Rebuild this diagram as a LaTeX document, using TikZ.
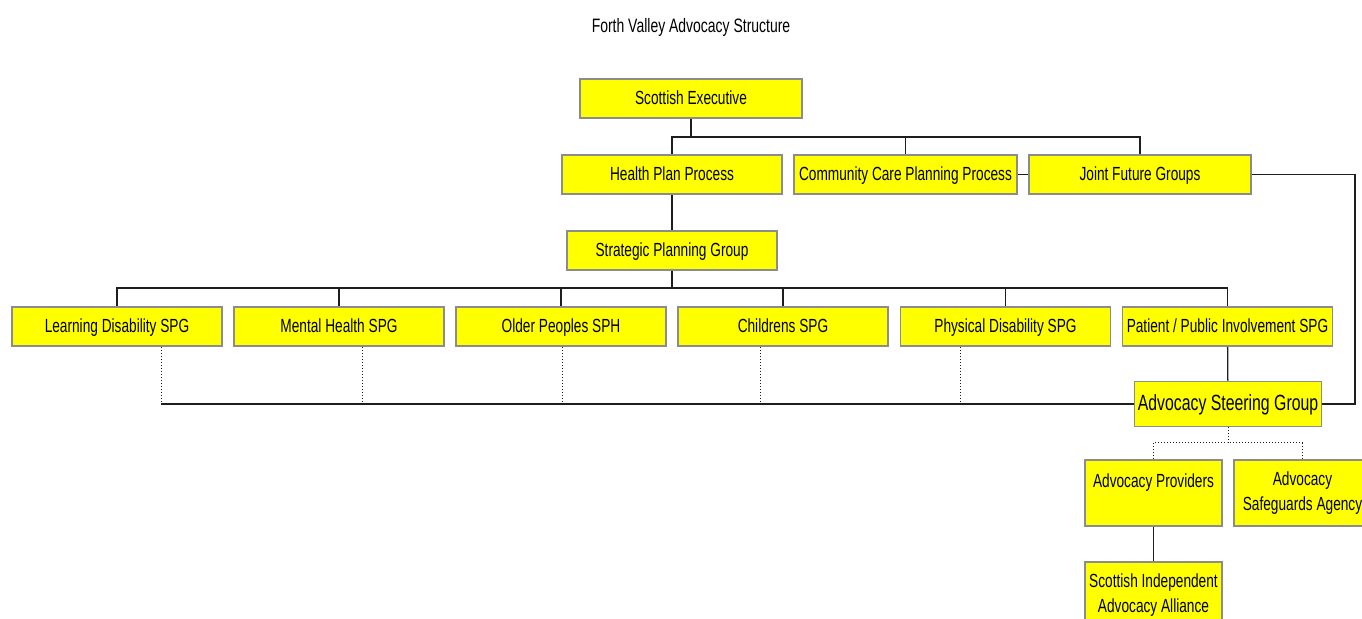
\documentclass[tikz,border=0pt]{standalone}
\usepackage{fontspec}
\setmainfont{Liberation Sans}[FakeStretch=0.72]
\usetikzlibrary{positioning}
\definecolor{boxyellow}{HTML}{FFFF00}
\definecolor{boxedge}{HTML}{8C8C8C}
\definecolor{linedark}{HTML}{1E1E1E}

\begin{document}
\begin{tikzpicture}[
  x=0.5pt, y=-0.5pt,
  font=\fontsize{9.5}{12.5}\selectfont,
  box/.style={draw=boxedge, fill=boxyellow, line width=0.8pt, minimum width=105pt, minimum height=19.5pt, inner sep=0pt, text height=7.5pt, text depth=1.5pt},
  tallbox/.style={draw=boxedge, fill=boxyellow, line width=0.8pt, minimum width=68.5pt, minimum height=33pt, inner sep=0pt, align=center},
  link/.style={draw=linedark, line width=0.65pt},
  dotlink/.style={draw=linedark, line width=0.5pt, densely dotted},
]
\useasboundingbox (0,0) rectangle (1362,619);

\node[font=\fontsize{9.7}{12}\selectfont] (title) at (691,27) {Forth Valley Advocacy Structure};

\node[box, minimum width=111pt] (exec) at (691,98.5) {Scottish Executive};

\node[box, minimum width=110pt] (hpp) at (672,174.5) {Health Plan Process};
\node[box, minimum width=111.5pt] (ccpp) at (905.5,174.5) {Community Care Planning Process};
\node[box, minimum width=111pt] (jfg) at (1140,174.5) {Joint Future Groups};

\node[box] (spg) at (672,250.5) {Strategic Planning Group};

\node[box] (ld) at (117,326.5) {Learning Disability SPG};
\node[box] (mh) at (339,326.5) {Mental Health SPG};
\node[box] (op) at (561,326.5) {Older Peoples SPH};
\node[box] (ch) at (783,326.5) {Childrens SPG};
\node[box] (pd) at (1005.5,326.5) {Physical Disability SPG};
\node[box] (ppi) at (1227.5,326.5) {Patient / Public Involvement SPG};

\node[box, minimum width=93.5pt, minimum height=22.5pt, text height=8.5pt, text depth=1.8pt, font=\fontsize{11}{13}\selectfont] (asg) at (1228,404) {Advocacy Steering Group};

\node[tallbox] (ap) at (1153.5,493) {Advocacy Providers\\~};
\node[tallbox] (asa) at (1302.5,493) {Advocacy\\Safeguards Agency};
\node[tallbox] (siaa) at (1153.5,595) {Scottish Independent\\Advocacy Alliance};

\coordinate (topbus) at (691,137);
\coordinate (spgbus) at (672,288);
\coordinate (lowbus) at (161,404);
\coordinate (loopx) at (1355,0);
\coordinate (forkbus) at (1228,443);

\draw[link] (exec) -- (topbus);
\draw[link] (hpp.north) |- (topbus) -| (jfg.north);
\draw[link] (ccpp.north) -- (ccpp.north |- topbus);
\draw[link] (ccpp) -- (jfg);
\draw[link] (jfg.east) -- (jfg.east -| loopx) |- (asg.east);

\draw[link] (hpp) -- (spg);
\draw[link] (spg) -- (spgbus);
\draw[link] (ld.north) |- (spgbus) -| (ppi.north);
\foreach \n in {mh,op,ch,pd}
  \draw[link] (\n.north) -- (\n.north |- spgbus);

\foreach \n/\x in {ld/161,mh/362,op/562,ch/760,pd/960}
  \draw[dotlink] (\n.south -| \x,0) -- (\x,404);
\draw[link] (lowbus) -- (asg.west);
\draw[link] (ppi) -- (asg);

\draw[dotlink] (asg) -- (forkbus);
\draw[dotlink] (ap.north) |- (forkbus) -| (asa.north);
\draw[link] (ap) -- (siaa);
\end{tikzpicture}
\end{document}
